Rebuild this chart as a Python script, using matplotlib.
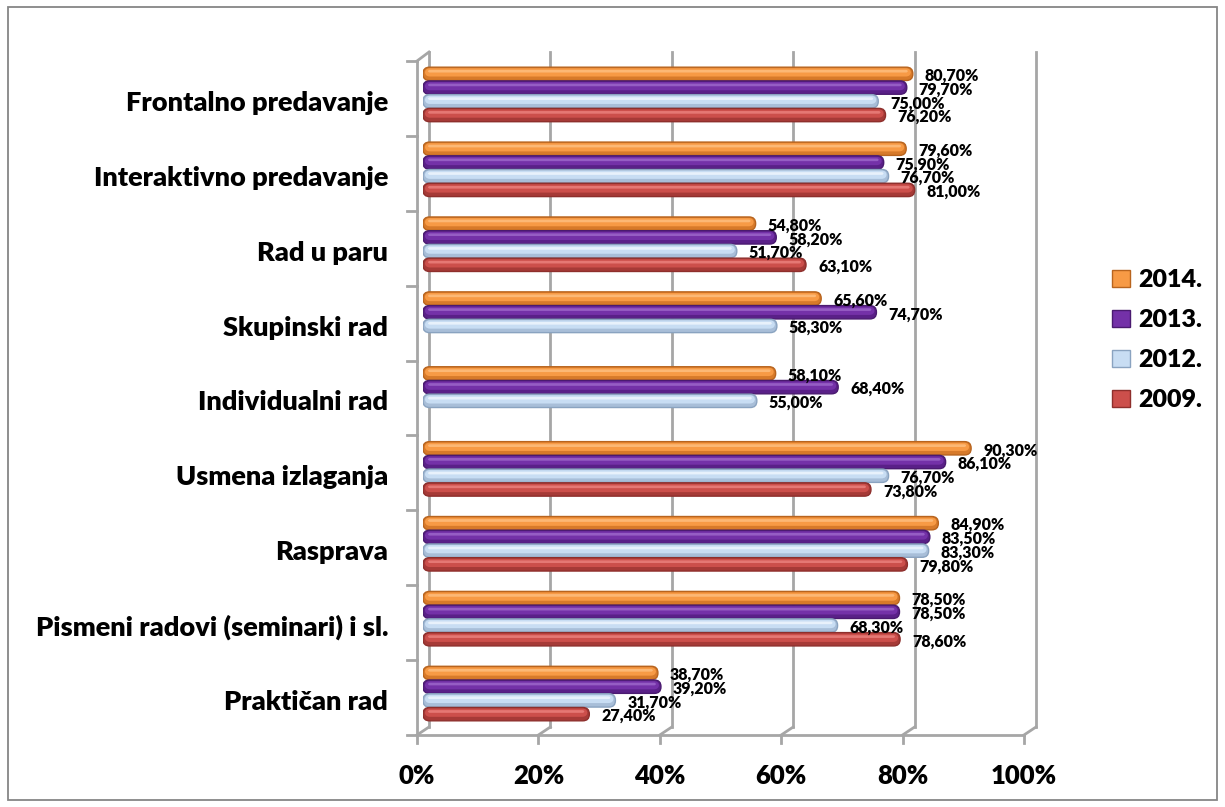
import numpy as np
import matplotlib
matplotlib.use('Agg')
import matplotlib.pyplot as plt
from matplotlib.patches import FancyBboxPatch, Patch, Rectangle
from matplotlib.lines import Line2D
from matplotlib.transforms import offset_copy, IdentityTransform

plt.rcParams['font.family'] = ['Lato', 'DejaVu Sans']

# podaci (odozgo prema dolje)
kategorije = ['Frontalno predavanje', 'Interaktivno predavanje', 'Rad u paru',
              'Skupinski rad', 'Individualni rad', 'Usmena izlaganja', 'Rasprava',
              'Pismeni radovi (seminari) i sl.', 'Praktičan rad']
godine = ['2014.', '2013.', '2012.', '2009.']
v2014 = [80.7, 79.6, 54.8, 65.6, 58.1, 90.3, 84.9, 78.5, 38.7]
v2013 = [79.7, 75.9, 58.2, 74.7, 68.4, 86.1, 83.5, 78.5, 39.2]
v2012 = [75.0, 76.7, 51.7, 58.3, 55.0, 76.7, 83.3, 68.3, 31.7]
v2009 = [76.2, 81.0, 63.1, np.nan, np.nan, 73.8, 79.8, 78.6, 27.4]
x_ticks = [0, 20, 40, 60, 80, 100]

serije = [v2014, v2013, v2012, v2009]
boje = ['#F79A45', '#7431A8', '#C8DDF3', '#CC4F4B']
rubovi = ['#B8641E', '#4A1A70', '#8AA3C0', '#8E2F2C']
svijetle = ['#FFC58A', '#A470D0', '#F6FAFF', '#F08A86']
tamne = ['#D77A2A', '#5A2088', '#A8BED8', '#A63A37']
pomaci = [0.275, 0.0915, -0.0915, -0.275]
visina = 0.178
TEZINA = 'heavy'

W, H = 1225, 807
fig = plt.figure(figsize=(W / 100, H / 100), dpi=100)
ax = fig.add_axes([423 / W, 1 - 731 / H, (1030 - 423) / W, (731 - 57) / H])
ax.set_xlim(0, 100)
ax.set_ylim(-0.5, len(kategorije) - 0.5)
ax.axis('off')

n = len(kategorije)
ypos = np.arange(n)[::-1]

x0, y0 = ax.transData.transform((0, 0))
x1, y1 = ax.transData.transform((1, 1))
xs, ys = x1 - x0, y1 - y0
r = 6.5 / xs
asp = xs / ys

# 3D okvir - pozadinske linije
sivo = '#A6A6A6'
def pix(x, y):
    return ax.transData.transform((x, y))

for t in x_ticks:
    bx, by = pix(t, -0.5)
    tx, ty = pix(t, n - 0.5)
    fig.add_artist(Line2D([bx + 6, bx + 6], [by + 4, ty + 5], transform=IdentityTransform(),
                          color=sivo, lw=2, zorder=0))
    fig.add_artist(Line2D([bx + 6, bx - 6], [by + 4, by - 4], transform=IdentityTransform(),
                          color=sivo, lw=2, zorder=0))
    fig.add_artist(Line2D([bx - 6, bx - 6], [by - 4, by - 12], transform=IdentityTransform(),
                          color=sivo, lw=2, zorder=0))
    ax.text(t, -0.5, f'{t}%', transform=offset_copy(ax.transData, fig=fig, x=-6, y=-45, units='dots'),
            ha='center', va='center', fontsize=18.5, fontweight=TEZINA)

bx, by = pix(0, -0.5)
ex, ey = pix(100, -0.5)
tx, ty = pix(0, n - 0.5)
fig.add_artist(Line2D([bx - 6, ex - 6], [by - 4, ey - 4], transform=IdentityTransform(), color=sivo, lw=2))
fig.add_artist(Line2D([bx - 6, bx - 6], [by - 4, ty - 4], transform=IdentityTransform(), color=sivo, lw=2))
fig.add_artist(Line2D([tx - 6, tx + 6], [ty - 4, ty + 5], transform=IdentityTransform(), color=sivo, lw=2))
for k in range(n + 1):
    cx, cy = pix(0, k - 0.5)
    fig.add_artist(Line2D([cx - 6, cx - 16], [cy - 4, cy - 4], transform=IdentityTransform(),
                          color=sivo, lw=2))

# stupci
for s, vals in enumerate(serije):
    bars = ax.barh(ypos + pomaci[s], vals, height=visina, color=boje[s])
    for b in bars:
        b.set_visible(False)
        w = b.get_width()
        if np.isnan(w):
            continue
        yb = b.get_y()
        ax.add_patch(FancyBboxPatch((0, yb), w, visina,
                                    boxstyle=f'round,pad=0,rounding_size={r}',
                                    mutation_aspect=asp, facecolor=tamne[s],
                                    edgecolor=rubovi[s], lw=1.0, zorder=3))
        ax.add_patch(FancyBboxPatch((0.3, yb + visina * 0.3), w - 0.6, visina * 0.62,
                                    boxstyle=f'round,pad=0,rounding_size={r * 0.8}',
                                    mutation_aspect=asp, facecolor=boje[s],
                                    edgecolor='none', zorder=4))
        ax.add_patch(FancyBboxPatch((0.8, yb + visina * 0.6), w - 1.6, visina * 0.2,
                                    boxstyle=f'round,pad=0,rounding_size={r * 0.3}',
                                    mutation_aspect=asp, facecolor=svijetle[s],
                                    edgecolor='none', alpha=0.7, zorder=5))
        ax.annotate(f'{w:.2f}'.replace('.', ',') + '%', (w, yb + visina / 2),
                    xytext=(12, -2), textcoords='offset pixels', ha='left', va='center',
                    fontsize=11.5, fontweight=TEZINA, zorder=6, annotation_clip=False)

# nazivi kategorija
for y, naziv in zip(ypos, kategorije):
    ax.text(0, y, naziv, transform=offset_copy(ax.transData, fig=fig, x=-35, y=-8.5, units='dots'),
            ha='right', va='center', fontsize=19.5, fontweight=TEZINA)

# legenda
ruc = [Patch(facecolor=boje[i], edgecolor=rubovi[i]) for i in range(4)]
fig.legend(ruc, godine, loc='center left', bbox_to_anchor=(1112 / W, 1 - 340 / H),
           frameon=False, prop={'weight': TEZINA, 'size': 18}, handlelength=0.7,
           handleheight=0.7, handletextpad=0.35, labelspacing=0.72,
           borderpad=0, borderaxespad=0)

fig.add_artist(Rectangle((8 / W, 7 / H), 1209 / W, 793 / H, transform=fig.transFigure,
                         fill=False, edgecolor='#868686', lw=1.3))

fig.savefig('out.png', dpi=100)
